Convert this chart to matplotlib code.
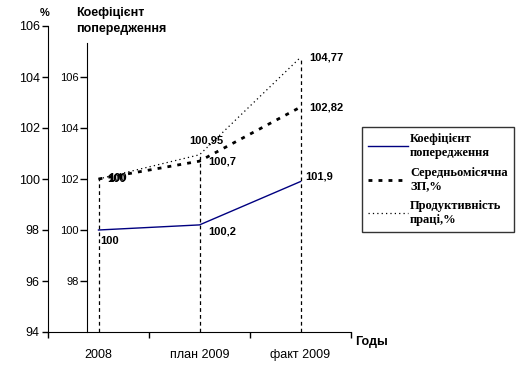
import matplotlib
matplotlib.use("Agg")
import matplotlib.pyplot as plt

categories = ["2008", "план 2009", "факт 2009"]
koef = [100, 100.2, 101.9]
zp = [100, 100.7, 102.82]
prod = [100, 100.95, 104.77]
koef_labels = ["100", "100,2", "101,9"]
zp_labels = ["100", "100,7", "102,82"]
prod_labels = ["100", "100,95", "104,77"]
main_ticks = [94, 96, 98, 100, 102, 104, 106]
inner_ticks = [98, 100, 102, 104, 106]

W, H = 521, 378
fig = plt.figure(figsize=(W / 100, H / 100), dpi=100)
fig.patch.set_facecolor("white")
plt.rcParams["font.family"] = ["Liberation Sans", "DejaVu Sans"]

L, R, T, B = 48, 351, 26, 332
ax = fig.add_axes([L / W, 1 - B / H, (R - L) / W, (B - T) / H])
ax.set_xlim(-0.5, 2.5)
ax.set_ylim(94, 106)
for s in ["top", "right"]:
    ax.spines[s].set_visible(False)
ax.set_yticks(main_ticks)
ax.set_yticklabels([str(t) for t in main_ticks], fontsize=9)
ax.tick_params(axis="y", direction="out", length=4, width=1, pad=2)
ax.set_xticks([-0.5, 0.5, 1.5, 2.5])
ax.set_xticklabels([])
ax.tick_params(axis="x", which="major", direction="out", length=4, width=1)
xs = list(range(len(categories)))
ax.set_xticks(xs, minor=True)
ax.set_xticklabels(categories, minor=True, fontsize=9)
ax.tick_params(axis="x", which="minor", length=0, pad=12)
ax.patch.set_alpha(0)

# inner axis
ax2 = ax.twinx()
ax2.set_ylim(96, 108)
ax2.set_xlim(-0.5, 2.5)
for s in ["top", "right", "bottom"]:
    ax2.spines[s].set_visible(False)
ax2.spines["left"].set_visible(True)
ax2.spines["left"].set_position(("axes", (87 - L) / (R - L)))
top_inner = 96 + (B - 43) / (B - T) * 12
ax2.spines["left"].set_bounds(96, top_inner)
ax2.yaxis.set_ticks_position("left")
ax2.yaxis.set_label_position("left")
ax2.set_yticks(inner_ticks)
ax2.set_yticklabels([str(t) for t in inner_ticks], fontsize=8)
ax2.tick_params(axis="y", direction="out", length=5, width=1, pad=1)

# drop lines
tops = [max(a, b) for a, b in zip(zp, prod)]
ax.vlines(xs, 94, tops, colors="black", linestyles=(0, (3, 2.5)), linewidth=0.9)

l1, = ax2.plot(xs, koef, color="#000080", linewidth=1.0, label="Коефіцієнт\nпопередження")
l2, = ax.plot(xs, zp, color="black", linewidth=2.0, dashes=(1.4, 2.2), label="Середньомісячна\nЗП,%")
l3, = ax.plot(xs, prod, color="black", linewidth=0.9, dashes=(1, 2.5), label="Продуктивність\nпраці,%")

lab = dict(fontsize=8, fontweight="bold", color="black", textcoords="offset pixels")
offs_k = [(2, -16), (9, -12), (5, 0)]
for x, y, t, o in zip(xs, koef, koef_labels, offs_k):
    ax2.annotate(t, (x, y), xytext=o, ha="left", va="bottom", **lab)
offs_z = [(9, -5), (9, -5), (9, -5)]
for x, y, t, o in zip(xs, zp, zp_labels, offs_z):
    ax.annotate(t, (x, y), xytext=o, ha="left", va="bottom", **lab)
offs_p = [(10, -4), (-10, 9), (9, -5)]
for x, y, t, o in zip(xs, prod, prod_labels, offs_p):
    ax.annotate(t, (x, y), xytext=o, ha="left", va="bottom", **lab)

leg = fig.legend(handles=[l1, l2, l3], loc="upper left",
                 bbox_to_anchor=(362 / W, 1 - 127 / H), borderaxespad=0,
                 prop={"family": ["Liberation Serif", "DejaVu Serif"], "weight": "bold", "size": 9},
                 frameon=True, fancybox=False, edgecolor="black", handlelength=3.2,
                 handletextpad=0.15, labelspacing=0.62, borderpad=0.5)
leg.get_frame().set_linewidth(1.0)

fig.text(45 / W, 1 - 13 / H, "%", fontsize=8, fontweight="bold", ha="center", va="center")
fig.text(76 / W, 1 - 13 / H, "Коефіцієнт", fontsize=9, fontweight="bold", ha="left", va="center")
fig.text(76 / W, 1 - 29 / H, "попередження", fontsize=9, fontweight="bold", ha="left", va="center")
fig.text(355 / W, 1 - 342 / H, "Годы", fontsize=9, fontweight="bold", ha="left", va="center")

fig.savefig("out.png", dpi=100, facecolor="white")
